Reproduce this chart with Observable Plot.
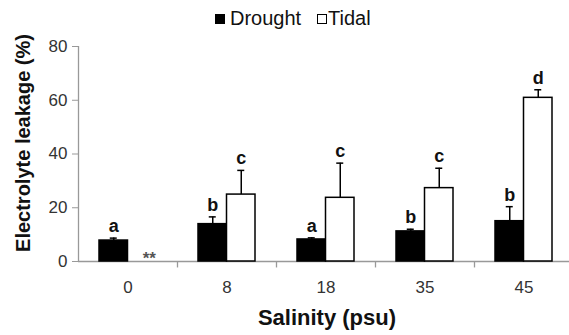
<!DOCTYPE html>
<html>
<head>
<meta charset="utf-8">
<script src="https://cdn.jsdelivr.net/npm/d3@7"></script>
<script src="https://cdn.jsdelivr.net/npm/@observablehq/plot@0.6"></script>
<style>
  body { margin: 0; background: #fff; font-family: "Liberation Sans", Arial, sans-serif; }
  #legend { position: relative; width: 569px; height: 32px; }
  #legend .sw { position: absolute; box-sizing: border-box; width: 10px; height: 10px; top: 14px; }
  #legend .lab { position: absolute; top: 8px; font-size: 20px; line-height: 20px; color: #111; white-space: nowrap; }
  #chart svg { display: block; }
</style>
</head>
<body>
<div id="legend"></div>
<div id="chart"></div>
<script>
const salinity = ["0", "8", "18", "35", "45"];
const seriesNames = ["Drought", "Tidal"];
const drought = [7.8, 13.9, 8.2, 11.2, 15.0];
const droughtErr = [0.9, 2.7, 0.6, 0.8, 5.4];
const tidal = [null, 24.9, 23.7, 27.3, 60.9];
const tidalErr = [null, 9.0, 12.9, 7.4, 3.0];
const droughtLetters = ["a", "b", "a", "b", "b"];
const tidalLetters = ["**", "c", "c", "c", "d"];
const yTicks = [0, 20, 40, 60, 80];
const xTitle = "Salinity (psu)";
const yTitle = "Electrolyte leakage (%)";

// legend
const legend = document.getElementById("legend");
legend.innerHTML = `
  <div class="sw" style="left:215px;background:#000;"></div>
  <div class="lab" style="left:230px;">${seriesNames[0]}</div>
  <div class="sw" style="left:317px;background:#fff;border:1.3px solid #000;"></div>
  <div class="lab" style="left:328px;">${seriesNames[1]}</div>`;

const dRows = salinity.map((s, i) => ({sal: s, value: drought[i], err: droughtErr[i], letter: droughtLetters[i]}));
const tRows = salinity.map((s, i) => ({sal: s, value: tidal[i], err: tidalErr[i], letter: tidalLetters[i]}))
  .filter(d => d.value != null);
const tMissing = salinity.map((s, i) => ({sal: s, value: tidal[i], letter: tidalLetters[i]}))
  .filter(d => d.value == null);

const band = 99;      // px per salinity group
const half = 14.25;   // half bar width offset
const axisGray = "#999";

const chart = Plot.plot({
  width: 569,
  height: 303,
  marginTop: 14,
  marginBottom: 74,
  marginLeft: 78,
  marginRight: 0,
  style: {fontFamily: "'Liberation Sans', Arial, sans-serif", background: "#fff"},
  x: {type: "band", domain: salinity, range: [78, 78 + band * salinity.length], padding: 0},
  y: {domain: [0, 80]},
  marks: [
    // axis lines
    Plot.ruleY([0], {stroke: axisGray, strokeWidth: 1.3}),
    Plot.ruleX([salinity[0]], {x: d => d, y1: 0, y2: 80, dx: -band / 2, stroke: axisGray, strokeWidth: 1.3}),
    Plot.ruleX(salinity.slice(1), {x: d => d, y1: 0, y2: -2.4, dx: -band / 2, stroke: axisGray, strokeWidth: 1.3}),
    Plot.axisY({ticks: yTicks, tickSize: 6, tickPadding: 5, stroke: axisGray, fill: "#333", fontSize: 17, label: null}),
    Plot.axisX({tickSize: 0, tickPadding: 19, fill: "#333", fontSize: 17, label: null}),
    // bars
    Plot.barY(dRows, {x: "sal", y: "value", fill: "#000", stroke: "#000", strokeWidth: 1.5, insetLeft: 21, insetRight: 49.5}),
    Plot.barY(tRows, {x: "sal", y: "value", fill: "#fff", stroke: "#000", strokeWidth: 1.5, insetLeft: 49.5, insetRight: 21}),
    // error bars
    Plot.ruleX(dRows, {x: "sal", y1: "value", y2: d => d.value + d.err, dx: -half, stroke: "#000", strokeWidth: 1.5}),
    Plot.ruleX(tRows, {x: "sal", y1: "value", y2: d => d.value + d.err, dx: half, stroke: "#000", strokeWidth: 1.5}),
    Plot.tickY(dRows, {x: "sal", y: d => d.value + d.err, insetLeft: 31.75, insetRight: 60.25, stroke: "#000", strokeWidth: 1.5}),
    Plot.tickY(tRows, {x: "sal", y: d => d.value + d.err, insetLeft: 60.25, insetRight: 31.75, stroke: "#000", strokeWidth: 1.5}),
    // letters
    Plot.text(dRows, {x: "sal", y: d => d.value + d.err, text: "letter", dx: -half, dy: -6, lineAnchor: "bottom", fontSize: 18, fontWeight: "bold", fill: "#111"}),
    Plot.text(tRows, {x: "sal", y: d => d.value + d.err, text: "letter", dx: half, dy: -6, lineAnchor: "bottom", fontSize: 18, fontWeight: "bold", fill: "#111"}),
    Plot.text(tMissing, {x: "sal", y: 0, text: "letter", dx: half + 7, dy: 2, lineAnchor: "bottom", fontSize: 17, fontWeight: "bold", fill: "#555"}),
    // titles
    Plot.text([xTitle], {frameAnchor: "bottom", text: d => d, textAnchor: "middle", dx: 3, dy: 63, lineAnchor: "bottom", fontSize: 22, fontWeight: "bold", fill: "#111"}),
    Plot.text([yTitle], {frameAnchor: "left", text: d => d, rotate: -90, textAnchor: "middle", dx: -55, dy: -11, lineAnchor: "middle", fontSize: 20, fontWeight: "bold", fill: "#111"})
  ]
});
document.getElementById("chart").appendChild(chart);
</script>
</body>
</html>
